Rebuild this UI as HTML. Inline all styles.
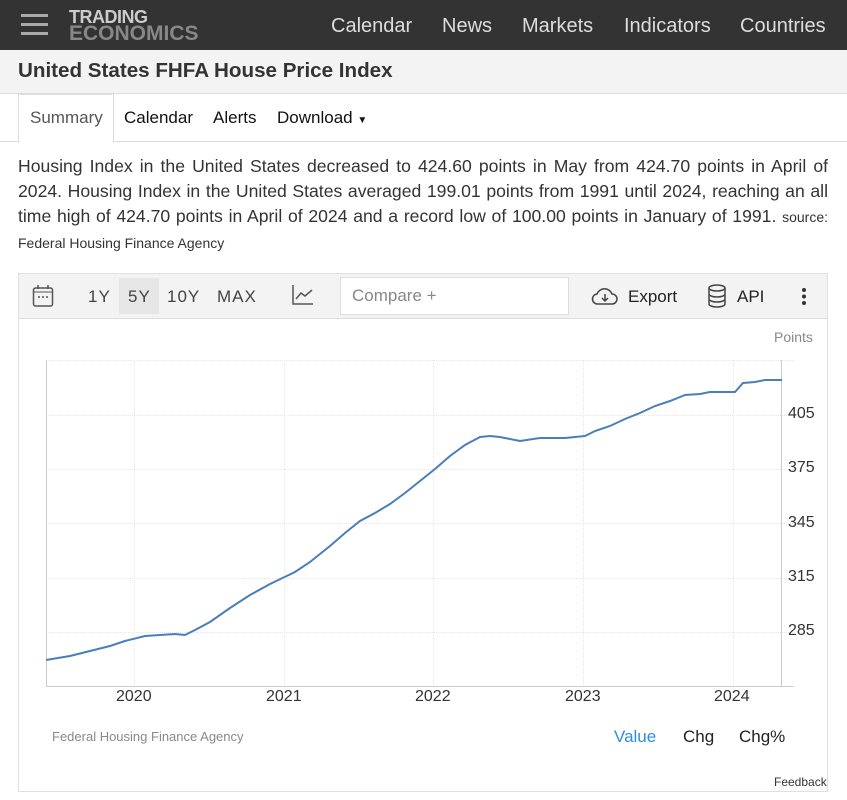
<!DOCTYPE html>
<html><head><meta charset="utf-8"><style>
body{margin:0;width:847px;height:800px;background:#fff;font-family:"Liberation Sans",sans-serif;position:relative;overflow:hidden;color:#333}
.abs{position:absolute}
.top{left:0;top:0;width:847px;height:50px;background:#333}
.nav{top:15px;font-size:20px;color:#ddd}
.title{left:0;top:50px;width:847px;height:43px;background:#f3f3f3;border-bottom:1px solid #ddd}
</style></head><body>
<div class="abs top"></div>
<div class="abs" style="left:21px;top:14px;width:27px;height:3px;background:#aaa"></div>
<div class="abs" style="left:21px;top:23px;width:27px;height:3px;background:#aaa"></div>
<div class="abs" style="left:21px;top:32px;width:27px;height:3px;background:#aaa"></div>
<div class="abs" style="left:69px;top:9px;font-size:18px;font-weight:bold;color:#ccc;line-height:16px;letter-spacing:-0.5px">TRADING</div>
<div class="abs" style="left:69px;top:24px;font-size:21px;font-weight:bold;color:#888;line-height:20px">ECONOMICS</div>
<div class="abs nav" style="left:331px">Calendar</div>
<div class="abs nav" style="left:442px">News</div>
<div class="abs nav" style="left:522px">Markets</div>
<div class="abs nav" style="left:624px">Indicators</div>
<div class="abs nav" style="left:740px">Countries</div>
<div class="abs title"></div>
<div class="abs" style="left:18px;top:59px;font-size:20.6px;font-weight:bold;color:#333">United States FHFA House Price Index</div>
<div class="abs" style="left:0;top:141px;width:847px;height:1px;background:#ddd"></div>
<div class="abs" style="left:18px;top:94px;width:94px;height:48px;background:#fff;border:1px solid #ddd;border-bottom:none"></div>
<div class="abs" style="left:30px;top:108px;font-size:17px;color:#555">Summary</div>
<div class="abs" style="left:124px;top:108px;font-size:17px;color:#111">Calendar</div>
<div class="abs" style="left:213px;top:108px;font-size:17px;color:#111">Alerts</div>
<div class="abs" style="left:277px;top:108px;font-size:17px;color:#111">Download <span style="font-size:10px">▼</span></div>
<div class="abs" style="left:18px;top:154px;width:810px;font-size:17.6px;line-height:25px;text-align:justify;color:#333">Housing Index in the United States decreased to 424.60 points in May from 424.70 points in April of 2024. Housing Index in the United States averaged 199.01 points from 1991 until 2024, reaching an all time high of 424.70 points in April of 2024 and a record low of 100.00 points in January of 1991. <span style="font-size:14px">source:</span> <span style="font-size:14px">Federal Housing Finance Agency</span></div>
<div class="abs" style="left:18px;top:273px;width:808px;height:517px;border:1px solid #e0e0e0"></div>
<div class="abs" style="left:19px;top:274px;width:808px;height:44px;background:#f3f3f3;border-bottom:1px solid #ddd"></div>
<svg class="abs" style="left:32px;top:284px" width="22" height="24"><rect x="1.5" y="4" width="19" height="18" rx="2" fill="none" stroke="#555" stroke-width="1.5"/><line x1="2" y1="8" x2="20" y2="8" stroke="#555"/><line x1="6" y1="1" x2="6" y2="5" stroke="#555" stroke-width="1.5"/><line x1="16" y1="1" x2="16" y2="5" stroke="#555" stroke-width="1.5"/><circle cx="7" cy="13" r="1" fill="#555"/><circle cx="11" cy="13" r="1" fill="#555"/><circle cx="15" cy="13" r="1" fill="#555"/></svg>
<div class="abs" style="left:119px;top:278px;width:40px;height:36px;background:#e6e6e6"></div>
<div class="abs" style="left:88px;top:287px;font-size:17px;color:#444;letter-spacing:1px">1Y</div>
<div class="abs" style="left:128px;top:287px;font-size:17px;color:#444;letter-spacing:1px">5Y</div>
<div class="abs" style="left:167px;top:287px;font-size:17px;color:#444;letter-spacing:1px">10Y</div>
<div class="abs" style="left:217px;top:287px;font-size:17px;color:#444;letter-spacing:1px">MAX</div>
<svg class="abs" style="left:291px;top:284px" width="24" height="22"><path d="M2 1V20H22" fill="none" stroke="#555" stroke-width="1.5"/><path d="M5 15L10 9L14 12L21 6" fill="none" stroke="#555" stroke-width="1.5"/></svg>
<div class="abs" style="left:340px;top:277px;width:227px;height:36px;background:#fff;border:1px solid #ddd"></div>
<div class="abs" style="left:352px;top:286px;font-size:17px;color:#888">Compare +</div>
<svg class="abs" style="left:591px;top:285px" width="28" height="22"><path d="M7 19H21A5 5 0 0 0 21 9A8 8 0 0 0 6 9A5 5 0 0 0 7 19Z" fill="none" stroke="#444" stroke-width="1.5"/><path d="M14 9V16M11 13L14 16L17 13" fill="none" stroke="#444" stroke-width="1.5"/></svg>
<div class="abs" style="left:628px;top:287px;font-size:17px;color:#222">Export</div>
<svg class="abs" style="left:707px;top:284px" width="20" height="24"><ellipse cx="10" cy="4" rx="8" ry="3" fill="none" stroke="#444" stroke-width="1.5"/><path d="M2 4V20A8 3 0 0 0 18 20V4M2 10A8 3 0 0 0 18 10M2 15A8 3 0 0 0 18 15" fill="none" stroke="#444" stroke-width="1.5"/></svg>
<div class="abs" style="left:737px;top:287px;font-size:17px;color:#222">API</div>
<svg class="abs" style="left:800px;top:287px" width="8" height="20"><circle cx="4" cy="3" r="2" fill="#333"/><circle cx="4" cy="9.5" r="2" fill="#333"/><circle cx="4" cy="16" r="2" fill="#333"/></svg>
<div class="abs" style="left:774px;top:329px;font-size:14px;color:#888">Points</div>
<svg class="abs" style="left:0;top:0" width="847" height="800">
<g stroke="#e6e6e6" stroke-dasharray="1,1">
<line x1="46" y1="360.5" x2="794" y2="360.5"/><line x1="46" y1="415.5" x2="794" y2="415.5"/><line x1="46" y1="469.5" x2="794" y2="469.5"/><line x1="46" y1="523.5" x2="794" y2="523.5"/><line x1="46" y1="578.5" x2="794" y2="578.5"/><line x1="46" y1="632.5" x2="794" y2="632.5"/>
<line x1="134.5" y1="360" x2="134.5" y2="686"/><line x1="284.5" y1="360" x2="284.5" y2="686"/><line x1="433.5" y1="360" x2="433.5" y2="686"/><line x1="583.5" y1="360" x2="583.5" y2="686"/><line x1="733.5" y1="360" x2="733.5" y2="686"/>
</g>
<line x1="46" y1="686.5" x2="794" y2="686.5" stroke="#ccc"/>
<line x1="46.5" y1="360" x2="46.5" y2="686" stroke="#ccc"/>
<line x1="781.5" y1="360" x2="781.5" y2="686" stroke="#ccc"/>
<polyline fill="none" stroke="#4a7ebb" stroke-width="2" points="46,660 70,656 90,651 110,646 125,641 145,636 175,634 185,635 195,630 210,622 230,608 250,595 270,584 295,572 310,562 330,546 345,533 360,521 375,513 390,504 405,493 420,481 435,469 450,456 465,445 480,437 490,436 500,437 520,441 540,438 565,438 585,436 595,431 610,426 625,419 640,413 655,406 670,401 685,395 700,394 710,392 735,392 743,383 755,382 765,380 782,380"/>
<g font-size="16" fill="#333" font-family="Liberation Sans">
<text x="788" y="418">405</text><text x="788" y="472">375</text><text x="788" y="527">345</text><text x="788" y="581">315</text><text x="788" y="635">285</text>
<text x="116" y="701">2020</text><text x="266" y="701">2021</text><text x="415" y="701">2022</text><text x="565" y="701">2023</text><text x="714" y="701">2024</text>
</g>
</svg>
<div class="abs" style="left:52px;top:729px;font-size:13px;color:#888">Federal Housing Finance Agency</div>
<div class="abs" style="left:614px;top:727px;font-size:17px;color:#2d8fdd">Value</div>
<div class="abs" style="left:683px;top:727px;font-size:17px;color:#222">Chg</div>
<div class="abs" style="left:739px;top:727px;font-size:17px;color:#222">Chg%</div>
<div class="abs" style="left:774px;top:775px;font-size:12px;color:#333">Feedback</div>
</body></html>
